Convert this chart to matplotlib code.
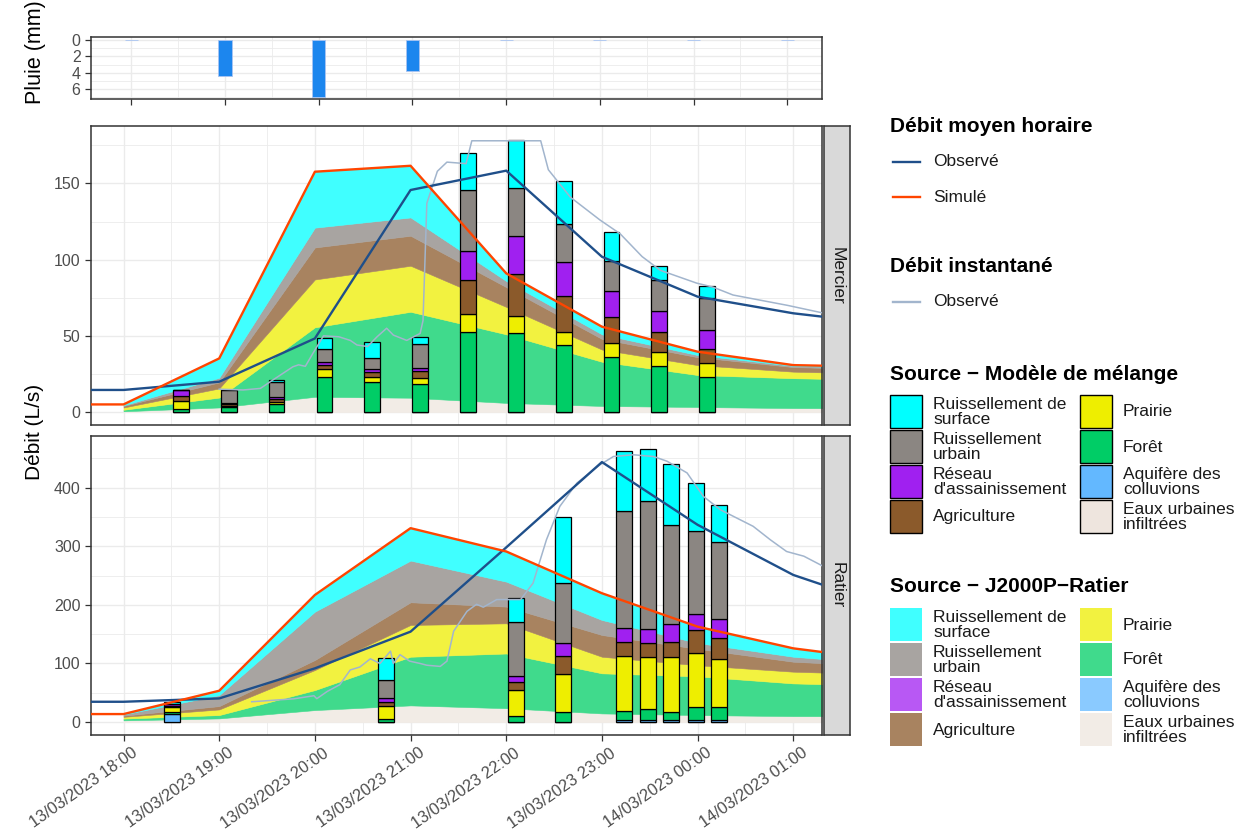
import numpy as np
import matplotlib.pyplot as plt
from matplotlib.patches import Rectangle
from matplotlib.lines import Line2D
from matplotlib.ticker import MultipleLocator
import matplotlib.colors as mcolors
import matplotlib.transforms as mtransforms

plt.rcParams['font.family'] = ['Liberation Sans', 'DejaVu Sans']

W, H = 1237, 832

## data -- time is in hours after 13/03/2023 18:00
tick_hours = [0, 1, 2, 3, 4, 5, 6, 7]
tick_labels = ['13/03/2023 18:00', '13/03/2023 19:00', '13/03/2023 20:00', '13/03/2023 21:00',
               '13/03/2023 22:00', '13/03/2023 23:00', '14/03/2023 00:00', '14/03/2023 01:00']

rain_hours = [0, 1, 2, 3, 4, 5, 6, 7]
rain_mm = [0, 4.4, 6.9, 3.8, 0, 0, 0, 0]

hourly_hours = [-1, 0, 1, 2, 3, 4, 5, 6, 7, 8]
mercier_obs = [14.5, 14.5, 19.9, 48.3, 145.7, 158.4, 101.9, 75.7, 64.8, 57.5]
mercier_sim = [5.0, 5.0, 35.2, 157.7, 161.6, 91.0, 56.0, 39.6, 30.8, 29.5]
ratier_obs = [34.7, 34.7, 40.4, 91.7, 154.3, 298.0, 443.5, 336.5, 251.0, 196.0]
ratier_sim = [13.7, 13.7, 53.5, 216.9, 330.8, 291.0, 219.8, 162.8, 125.8, 105.0]

sources = ['Ruissellement de\nsurface', 'Ruissellement\nurbain', 'Réseau\nd\'assainissement',
           'Agriculture', 'Prairie', 'Forêt', 'Aquifère des\ncolluvions', 'Eaux urbaines\ninfiltrées']
source_colors = ['#00FFFF', '#8B8682', '#A020F0', '#8B5A2B', '#EEEE00', '#00CD66', '#63B8FF', '#EEE5DE']

# J2000P model, hourly contributions (same order as sources)
model_hours = [0, 1, 2, 3, 4, 5, 6, 7, 8]
mercier_model = [
    [0.6, 12.7, 36.7, 33.9, 5.0, 5.0, 2.2, 0.5, 0.7],
    [0.4, 3.0, 13.0, 12.0, 4.0, 3.0, 1.4, 0.8, 0.9],
    [0, 0, 0, 0, 0, 0, 0, 0, 0],
    [1.0, 4.0, 21.0, 19.7, 13.0, 7.0, 5.2, 3.0, 2.9],
    [1.5, 6.0, 31.4, 30.2, 18.0, 8.0, 6.5, 4.3, 4.0],
    [1.0, 6.5, 45.6, 56.4, 45.0, 29.0, 21.0, 19.6, 18.6],
    [0, 0, 0, 0, 0, 0, 0, 0, 0],
    [0.5, 3.0, 10.0, 9.4, 6.0, 4.0, 3.3, 2.6, 2.4],
]
ratier_model = [
    [0.7, 7.5, 28.5, 55.3, 51.4, 45.6, 27.8, 14.3, 6.0],
    [2.0, 18.7, 82.5, 71.1, 42.6, 25.6, 10.0, 8.5, 4.0],
    [0, 0, 0, 0, 0, 0, 0, 0, 0],
    [2.0, 5.7, 17.1, 38.7, 28.5, 37.1, 28.0, 17.0, 14.0],
    [3.0, 9.6, 34.2, 54.2, 51.5, 28.3, 19.0, 20.0, 19.0],
    [3.0, 5.7, 34.1, 83.0, 93.3, 68.4, 66.0, 55.8, 52.0],
    [0, 0, 0, 0, 0, 0, 0, 0, 0],
    [3.0, 6.3, 20.5, 28.5, 23.7, 14.8, 12.0, 10.2, 10.0],
]

# mixing model samples
mercier_mix_hours = [0.6, 1.1, 1.6, 2.1, 2.6, 3.1, 3.6, 4.1, 4.6, 5.1, 5.6, 6.1]
mercier_mix = [
    [0, 0, 1.5, 7.2, 10.5, 4.4, 24.0, 31.7, 28.2, 18.6, 9.4, 7.6],
    [0, 8.2, 9.5, 8.1, 7.2, 15.5, 39.9, 31.3, 24.8, 19.9, 20.1, 21.5],
    [3.9, 1.0, 1.5, 2.2, 2.0, 2.2, 19.2, 24.9, 22.5, 16.9, 14.2, 12.0],
    [3.3, 1.2, 1.7, 2.8, 2.8, 4.8, 22.3, 27.6, 23.4, 17.5, 12.7, 9.2],
    [5.2, 0.5, 1.8, 4.8, 3.7, 3.9, 11.6, 11.0, 8.7, 9.1, 9.2, 9.2],
    [2.0, 3.5, 5.0, 23.2, 19.5, 18.2, 52.7, 52.0, 44.0, 35.9, 30.4, 23.2],
    [0, 0, 0, 0, 0, 0, 0, 0, 0, 0, 0, 0],
    [0, 0, 0, 0, 0, 0, 0, 0, 0, 0, 0, 0],
]
ratier_mix_hours = [0.51, 2.745, 4.10, 4.59, 5.23, 5.48, 5.72, 5.98, 6.22]
ratier_mix = [
    [2.5, 37.1, 39.9, 112.1, 102.5, 89.4, 104.1, 81.5, 62.6],
    [1.0, 31.3, 92.2, 102.5, 198.1, 218.0, 169.1, 142.3, 131.2],
    [2.5, 5.7, 10.2, 21.7, 24.0, 22.9, 30.2, 26.8, 32.0],
    [3.0, 7.4, 14.2, 31.2, 24.5, 24.9, 26.7, 39.8, 37.0],
    [7.0, 22.7, 43.9, 63.9, 93.3, 88.9, 92.9, 91.1, 80.8],
    [4.0, 4.6, 10.8, 17.6, 16.4, 18.2, 14.2, 22.8, 22.8],
    [14.0, 0, 0, 0, 3.0, 3.4, 3.4, 3.4, 3.4],
    [0, 0, 0, 0, 0, 0, 0, 0, 0],
]

# instantaneous observed discharge
mercier_inst_hours = [1.00, 1.25, 1.43, 1.56, 1.77, 1.83, 1.90, 1.98, 2.09, 2.25, 2.37, 2.44, 2.55,
                      2.65, 2.75, 2.82, 2.96, 3.10, 3.13, 3.17, 3.28, 3.38, 3.58, 3.64, 4.36, 4.44,
                      4.67, 4.98, 5.19, 5.42, 5.61, 5.99, 6.16, 6.37, 6.94, 7.31, 7.40]
mercier_inst = [15, 14.5, 15.5, 21, 29.7, 31, 30, 38.6, 50, 49.4, 47, 44, 43,
                49.4, 55, 50.5, 47, 51.6, 60, 137, 158, 164, 163, 178, 178, 159,
                141, 126, 117, 102, 93, 84.6, 82, 76.8, 70, 65, 64]
ratier_inst_hours = [1.34, 1.78, 1.99, 2.02, 2.13, 2.26, 2.37, 2.47, 2.58, 2.68, 2.79, 2.82, 2.89,
                     2.99, 3.10, 3.17, 3.31, 3.38, 3.45, 3.59, 3.69, 3.76, 3.90, 4.15, 4.28, 4.42,
                     4.56, 4.74, 4.98, 5.12, 5.33, 5.54, 5.68, 5.89, 6.06, 6.24, 6.41, 6.58, 6.76,
                     6.93, 7.11, 7.31, 7.40]
ratier_inst = [34.7, 39.7, 45, 40, 52.4, 63.8, 89, 94, 108, 100, 121, 100, 115,
               104, 100, 97, 95, 104, 155, 189, 201, 196, 209, 209, 237, 311,
               368, 408, 439, 453, 456, 453, 445, 425, 385, 362, 348, 334, 311,
               291, 283, 266, 262]

## styling helpers
obs_col = '#1F4F8A'
sim_col = '#FF4500'
inst_col = '#A2B5CD'
frame_col = '#333333'


def lighten(c, a=0.75):
    rgb = np.array(mcolors.to_rgb(c))
    return tuple(a * rgb + (1 - a))


model_colors = [lighten(c) for c in source_colors]


def px_box(l, t, r, b):
    return [l / W, 1 - b / H, (r - l) / W, (b - t) / H]


def style_axes(ax, ymajor, yminor):
    ax.set_facecolor('white')
    ax.yaxis.set_major_locator(MultipleLocator(ymajor))
    ax.yaxis.set_minor_locator(MultipleLocator(yminor))
    ax.set_xticks(tick_hours)
    ax.xaxis.set_minor_locator(MultipleLocator(0.5))
    ax.grid(True, which='major', color='#EBEBEB', lw=1.0)
    ax.grid(True, which='minor', color='#EBEBEB', lw=0.6)
    ax.set_axisbelow(True)
    ax.tick_params(which='major', length=4, width=0.9, color=frame_col, labelcolor='#4D4D4D', labelsize=11.5)
    ax.tick_params(which='minor', length=0)
    for s in ax.spines.values():
        s.set_color(frame_col)
        s.set_linewidth(1.1)


def draw_site(ax, model, mix_hours, mix, obs, sim, inst_h, inst_v):
    # stacked J2000P contributions, bottom layer = last source
    base = np.zeros(len(model_hours))
    for vals, col in zip(model[::-1], model_colors[::-1]):
        vals = np.array(vals, dtype=float)
        if vals.max() > 0:
            ax.fill_between(model_hours, base, base + vals, facecolor=col,
                            edgecolor=col, linewidth=0.4, zorder=1)
        base = base + vals
    bottom = np.zeros(len(mix_hours))
    for vals, col in zip(mix[::-1], source_colors[::-1]):
        vals = np.array(vals, dtype=float)
        ax.bar(mix_hours, vals, width=0.164, bottom=bottom, color=col,
               edgecolor='black', linewidth=0.9, zorder=3)
        bottom += vals
    ax.plot(inst_h, inst_v, color=inst_col, lw=1.1, zorder=4)
    ax.plot(hourly_hours, obs, color=obs_col, lw=1.7, zorder=5)
    ax.plot(hourly_hours, sim, color=sim_col, lw=1.7, zorder=5)


def add_strip(box, label):
    sax = fig.add_axes(box)
    sax.set_facecolor('#D9D9D9')
    sax.set_xticks([])
    sax.set_yticks([])
    for s in sax.spines.values():
        s.set_color(frame_col)
        s.set_linewidth(1.1)
    sax.text(0.5, 0.5, label, rotation=-90, ha='center', va='center',
             fontsize=12.5, color='#1A1A1A', transform=sax.transAxes)


fig = plt.figure(figsize=(W / 100, H / 100), dpi=100)

## rain panel
ax_rain = fig.add_axes(px_box(91, 37, 822, 99))
ax_rain.bar(rain_hours, rain_mm, width=0.14, color='#1C86EE', edgecolor='#A9C4F2', linewidth=0.6, zorder=3)
style_axes(ax_rain, 2, 1)
ax_rain.set_xlim(-0.43, 7.37)
ax_rain.set_ylim(7.2, -0.37)
ax_rain.tick_params(axis='x', labelbottom=False)

## Mercier
ax_m = fig.add_axes(px_box(91, 126, 822, 425))
draw_site(ax_m, mercier_model, mercier_mix_hours, mercier_mix, mercier_obs, mercier_sim,
          mercier_inst_hours, mercier_inst)
style_axes(ax_m, 50, 25)
ax_m.set_xlim(-0.34, 7.30)
ax_m.set_ylim(-8.5, 187.7)
ax_m.tick_params(axis='x', which='major', length=0, labelbottom=False)
add_strip(px_box(824, 126, 850, 425), 'Mercier')

## Ratier
ax_r = fig.add_axes(px_box(91, 436, 822, 735))
draw_site(ax_r, ratier_model, ratier_mix_hours, ratier_mix, ratier_obs, ratier_sim,
          ratier_inst_hours, ratier_inst)
style_axes(ax_r, 100, 50)
ax_r.set_xlim(-0.34, 7.30)
ax_r.set_ylim(-22, 488)
ax_r.set_xticklabels(tick_labels, rotation=35, ha='right', va='top',
                     rotation_mode='anchor', fontsize=11.8)
shift = mtransforms.ScaledTranslation(8 / 100, 0, fig.dpi_scale_trans)
for lab in ax_r.get_xticklabels():
    lab.set_transform(lab.get_transform() + shift)
add_strip(px_box(824, 436, 850, 735), 'Ratier')

## axis titles
fig.text(35 / W, 1 - 432 / H, 'Débit (L/s)', rotation=90, ha='center', va='center', fontsize=15)
fig.text(35 / W, 1 - 52 / H, 'Pluie (mm)', rotation=90, ha='center', va='center', fontsize=15.5)


## legends (drawn by hand to follow the ggplot key layout)
def line_legend(title, y_title, labels, colors, y_first):
    fig.text(890 / W, 1 - y_title / H, title, fontsize=15, fontweight='bold', ha='left', va='center')
    for i, (lab, col) in enumerate(zip(labels, colors)):
        y = 1 - (y_first + i * 35) / H
        fig.add_artist(Line2D([893 / W, 920 / W], [y, y], color=col, lw=1.7))
        fig.text(933 / W, y, lab, fontsize=12.5, color='#1A1A1A', ha='left', va='center')


def patch_legend(title, y_title, y_top, colors, edge):
    fig.text(890 / W, 1 - y_title / H, title, fontsize=15, fontweight='bold', ha='left', va='center')
    for i, (lab, col) in enumerate(zip(sources, colors)):
        x0 = [890, 1080][i // 4]
        y0 = y_top + (i % 4) * 35
        fig.add_artist(Rectangle((x0 / W, 1 - (y0 + 33) / H), 32 / W, 33 / H, transform=fig.transFigure,
                                 facecolor=col, edgecolor=edge, linewidth=1.0 if edge != 'none' else 0))
        fig.text((x0 + 43) / W, 1 - (y0 + 17) / H, lab, fontsize=12.5, color='#1A1A1A',
                 ha='left', va='center', linespacing=0.98)


line_legend('Débit moyen horaire', 127, ['Observé', 'Simulé'], [obs_col, sim_col], 162)
line_legend('Débit instantané', 267, ['Observé'], [inst_col], 302)
patch_legend('Source − Modèle de mélange', 374, 395, source_colors, 'black')
patch_legend('Source − J2000P−Ratier', 586, 608, model_colors, 'none')

fig.savefig('out.png', dpi=100, facecolor='white')
